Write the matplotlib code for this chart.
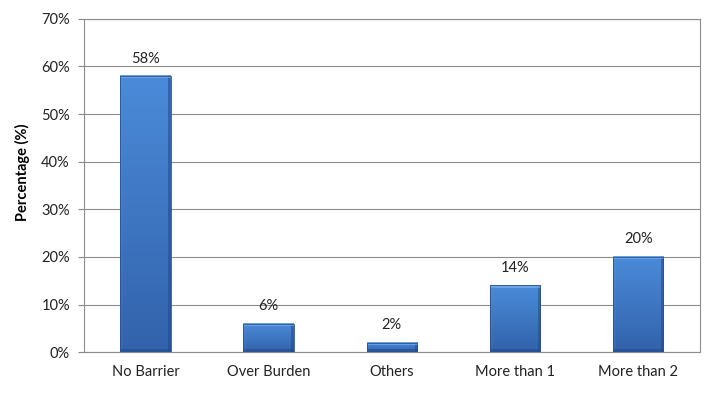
import numpy as np
import matplotlib
matplotlib.use('Agg')
import matplotlib.pyplot as plt
from matplotlib.colors import to_rgb

categories = ['No Barrier', 'Over Burden', 'Others', 'More than 1', 'More than 2']
values = [58, 6, 2, 14, 20]
bar_labels = ['58%', '6%', '2%', '14%', '20%']
yticks = [0, 10, 20, 30, 40, 50, 60, 70]

plt.rcParams['font.family'] = ['Lato', 'DejaVu Sans']

fig = plt.figure(figsize=(7.04, 3.93), dpi=100)
ax = fig.add_axes([0.119, 0.104, 0.875, 0.848])

ax.set_xlim(-0.5, len(categories) - 0.5)
ax.set_ylim(0, 70)

x = np.arange(len(categories))
width = 0.41
bars = ax.bar(x, values, width=width, color='#3a72c0', edgecolor='none', zorder=3)

# pixels per data unit, used to size the bevel on each bar
ppx = 0.875 * 704 / len(categories)
ppy = 0.848 * 393 / 70.0


def bar_image(h):
    # bevelled bar face: lighter top, darker right and bottom edges
    nw = int(round(width * ppx))
    nh = max(int(round(h * ppy)), 4)
    top = np.array(to_rgb('#4b8bd9'))
    bot = np.array(to_rgb('#3262ab'))
    t = np.linspace(0, 1, nh)[:, None, None]
    img = top * (1 - t) + bot * t
    img = np.repeat(img, nw, axis=1)
    b = 3
    img[:, :b] = img[:, :b] * 0.9 + np.array(to_rgb('#5f9be2')) * 0.1
    img[:, -b:] = img[:, -b:] * 0.45 + np.array(to_rgb('#214a8a')) * 0.55
    img[-b:, :] = img[-b:, :] * 0.45 + np.array(to_rgb('#23498a')) * 0.55
    img[:b, :] = img[:b, :] * 0.35 + np.array(to_rgb('#7ab0ee')) * 0.65
    return img


for bar in bars:
    x0, w, h = bar.get_x(), bar.get_width(), bar.get_height()
    ax.imshow(bar_image(h), aspect='auto', extent=[x0, x0 + w, 0, h],
              zorder=3.5, interpolation='bilinear')
    ax.add_patch(plt.Rectangle((x0, 0), w, h, fill=False, edgecolor='#2a5190',
                               linewidth=0.6, zorder=3.7))

for xi, v, lab in zip(x, values, bar_labels):
    ax.text(xi, v + 2.2, lab, ha='center', va='bottom', fontsize=10.5, color='#222222')

ax.set_xlim(-0.5, len(categories) - 0.5)
ax.set_ylim(0, 70)
ax.set_yticks(yticks)
ax.set_yticklabels([f'{t}%' for t in yticks], fontsize=10.5, color='#222222')
ax.set_xticks(x)
ax.set_xticklabels(categories, fontsize=10.5, color='#222222')
ax.tick_params(axis='x', length=0, pad=9)
ax.tick_params(axis='y', length=4, color='#888888', pad=6)
ax.grid(axis='y', color='#8c8c8c', linewidth=0.8, zorder=0)
for s in ax.spines.values():
    s.set_color('#8c8c8c')
    s.set_linewidth(0.8)
ax.set_ylabel('Percentage (%)', fontsize=10.5, fontweight='bold')
ax.yaxis.set_label_coords(-0.088, 0.54)

fig.savefig('out.png', dpi=100)
